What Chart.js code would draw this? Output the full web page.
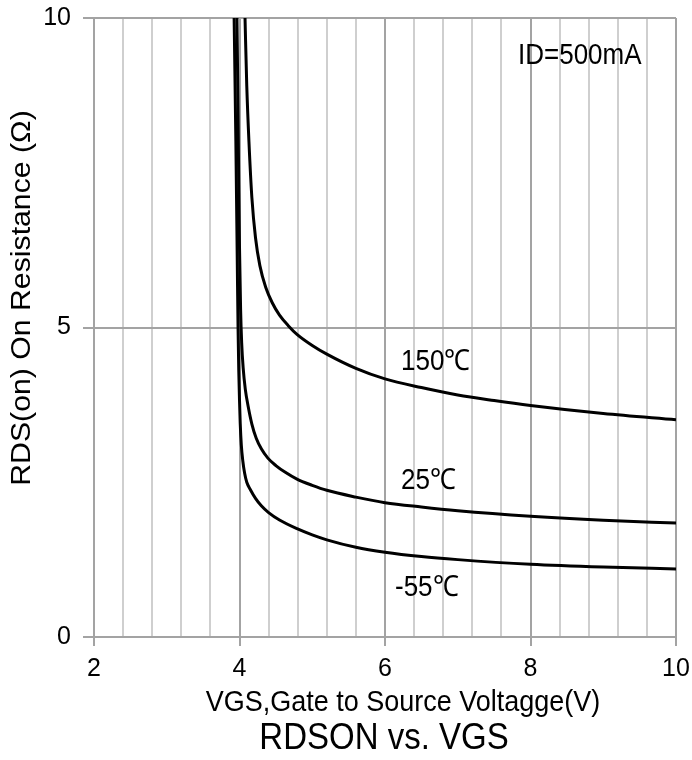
<!DOCTYPE html>
<html>
<head>
<meta charset="utf-8">
<script src="https://cdn.jsdelivr.net/npm/chart.js@4.4.1/dist/chart.umd.min.js"></script>
<style>
  html, body { margin: 0; padding: 0; background: #fff; }
  #wrap { width: 692px; height: 760px; }
</style>
</head>
<body>
<div id="wrap"><canvas id="rdsChart" width="692" height="760"></canvas></div>
<script>
// Curve readings (VGS in volts, RDS(on) in ohms)
const vgs150 = [4.07, 4.08, 4.10, 4.13, 4.17, 4.22, 4.28, 4.36, 4.45, 4.55, 4.67, 4.79, 5.0, 5.2, 5.6, 6.0, 6.5, 7.0, 7.5, 8.0, 9.0, 10.0];
const rds150 = [10.3, 9.8, 8.9, 8.0, 7.1, 6.45, 6.0, 5.65, 5.4, 5.2, 5.03, 4.89, 4.71, 4.57, 4.34, 4.17, 4.03, 3.91, 3.82, 3.74, 3.61, 3.51];

const vgs25 = [3.96, 3.975, 3.99, 4.0, 4.015, 4.03, 4.05, 4.08, 4.12, 4.17, 4.23, 4.30, 4.39, 4.50, 4.63, 4.79, 5.0, 5.2, 5.6, 6.0, 6.5, 7.0, 8.0, 9.0, 10.0];
const rds25 = [10.5, 9.0, 7.3, 6.3, 5.3, 4.75, 4.35, 4.0, 3.72, 3.44, 3.21, 3.04, 2.89, 2.77, 2.66, 2.55, 2.45, 2.37, 2.26, 2.17, 2.10, 2.04, 1.95, 1.885, 1.84];

const vgsM55 = [3.92, 3.95, 3.97, 3.98, 3.99, 4.0, 4.01, 4.025, 4.045, 4.07, 4.10, 4.15, 4.22, 4.30, 4.40, 4.55, 4.79, 5.0, 5.2, 5.6, 6.0, 6.5, 7.0, 8.0, 9.0, 10.0];
const rdsM55 = [10.5, 8.0, 6.0, 5.0, 4.3, 3.83, 3.45, 3.1, 2.85, 2.65, 2.5, 2.38, 2.24, 2.12, 2.01, 1.89, 1.75, 1.65, 1.57, 1.45, 1.37, 1.30, 1.25, 1.175, 1.13, 1.10];

// Axis ticks
const xGridValues = [2, 2.4, 2.8, 3.2, 3.6, 4, 4.4, 4.8, 5.2, 5.6, 6, 6.4, 6.8, 7.2, 7.6, 8, 8.4, 8.8, 9.2, 9.6, 10];
const xMajorTicks = [2, 4, 6, 8, 10];
const yTicks = [0, 5, 10];

const FONT = 'Arial, "Liberation Sans", sans-serif';
const majorGrid = '#a3a3a3';
const minorGrid = '#cfcfcf';
const STRETCH = 1.12; // reference text is a little taller than it is wide

function isMajor(v) {
    return xMajorTicks.some(m => Math.abs(m - v) < 1e-6);
}

function toPoints(xs, ys) {
    return xs.map((x, i) => ({ x: x, y: ys[i] }));
}

function curve(label, xs, ys) {
    return {
        label: label,
        data: toPoints(xs, ys),
        showLine: true,
        borderColor: '#000',
        borderWidth: 3,
        pointRadius: 0,
        cubicInterpolationMode: 'monotone',
        fill: false
    };
}

function tallText(ctx, text, x, y, size, align) {
    ctx.save();
    ctx.translate(x, y);
    ctx.scale(1, STRETCH);
    ctx.font = size + 'px ' + FONT;
    ctx.textAlign = align;
    ctx.fillText(text, 0, 0);
    ctx.restore();
}

// Annotations and axis titles drawn as text
const textPlugin = {
    id: 'chartText',
    afterDraw(chart) {
        const ctx = chart.ctx;
        ctx.save();
        ctx.fillStyle = '#000';
        ctx.textBaseline = 'middle';

        tallText(ctx, 'ID=500mA', 518, 56, 26, 'left');
        tallText(ctx, '150\u2103', 401, 362, 26, 'left');
        tallText(ctx, '25\u2103', 401, 481, 26, 'left');
        tallText(ctx, '-55\u2103', 395, 588, 26, 'left');

        tallText(ctx, 'VGS,Gate to Source Voltagge(V)', 403, 703, 27, 'center');
        tallText(ctx, 'RDSON vs. VGS', 384, 739, 33, 'center');

        ctx.translate(23, 298);
        ctx.rotate(-Math.PI / 2);
        ctx.scale(STRETCH, 1);
        ctx.font = '27px ' + FONT;
        ctx.textAlign = 'center';
        ctx.fillText('RDS(on) On Resistance (\u03A9)', 0, 0);
        ctx.restore();
    }
};

new Chart(document.getElementById('rdsChart'), {
    type: 'scatter',
    data: {
        datasets: [
            curve('150\u2103', vgs150, rds150),
            curve('25\u2103', vgs25, rds25),
            curve('-55\u2103', vgsM55, rdsM55)
        ]
    },
    options: {
        responsive: false,
        animation: false,
        layout: { padding: { top: 18, right: 16, left: 0, bottom: 0 } },
        plugins: {
            legend: { display: false },
            tooltip: { enabled: false }
        },
        scales: {
            x: {
                type: 'linear',
                min: 2,
                max: 10,
                afterBuildTicks: s => { s.ticks = xGridValues.map(v => ({ value: v })); },
                afterFit: s => {
                    s.height = 123;
                    s.paddingLeft = 0;
                    s.paddingRight = 0;
                },
                ticks: {
                    autoSkip: false,
                    maxRotation: 0,
                    padding: 8,
                    color: '#000',
                    font: { family: FONT, size: 25 },
                    callback: v => isMajor(v) ? String(Math.round(v)) : ''
                },
                grid: {
                    lineWidth: 2,
                    color: c => isMajor(c.tick.value) ? majorGrid : minorGrid,
                    tickColor: c => isMajor(c.tick.value) ? majorGrid : 'rgba(0,0,0,0)',
                    tickLength: 9
                },
                border: { color: majorGrid, width: 2 }
            },
            y: {
                type: 'linear',
                min: 0,
                max: 10,
                afterBuildTicks: s => { s.ticks = yTicks.map(v => ({ value: v })); },
                afterFit: s => {
                    s.width = 94;
                    s.paddingTop = 0;
                    s.paddingBottom = 0;
                },
                ticks: {
                    padding: 12,
                    color: '#000',
                    font: { family: FONT, size: 25 }
                },
                grid: {
                    lineWidth: 2,
                    color: majorGrid,
                    tickColor: majorGrid,
                    tickLength: 11
                },
                border: { color: majorGrid, width: 2 }
            }
        }
    },
    plugins: [textPlugin]
});
</script>
</body>
</html>
